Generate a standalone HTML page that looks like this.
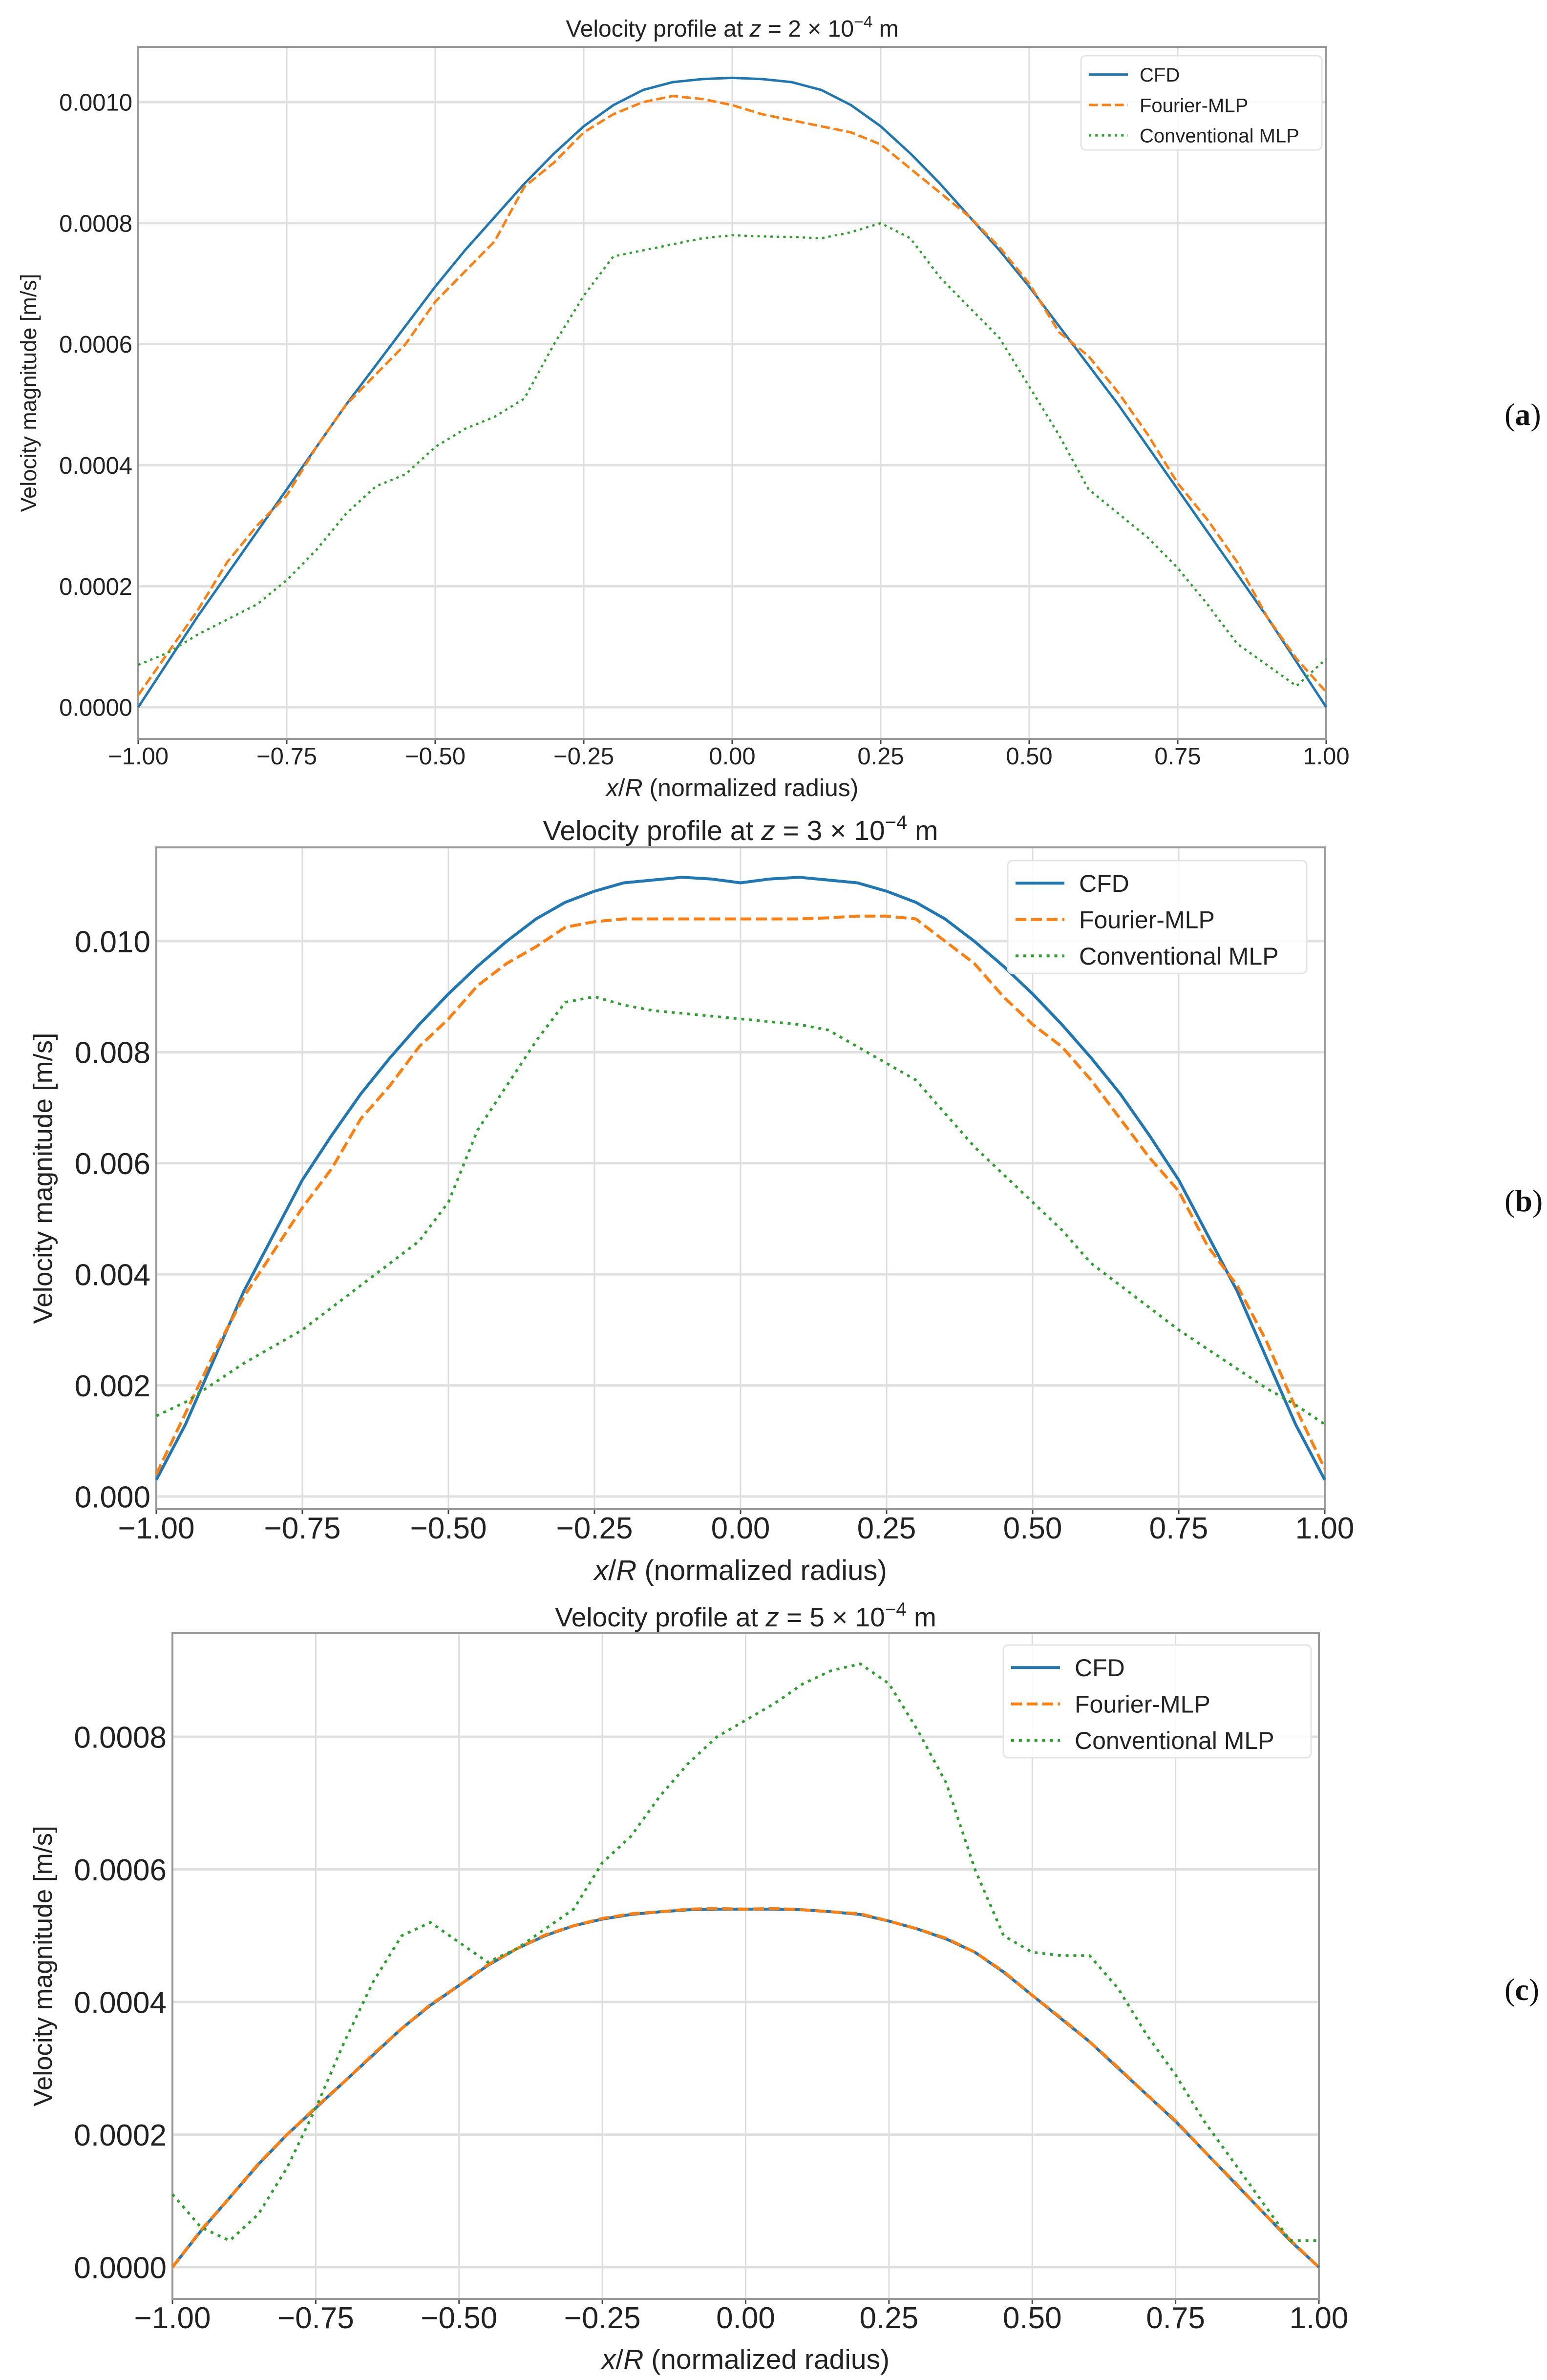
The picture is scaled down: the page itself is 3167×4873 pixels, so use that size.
<!DOCTYPE html>
<html><head><meta charset="utf-8">
<style>
html,body{margin:0;padding:0;background:#fff;}
svg{display:block;font-family:"Liberation Sans","DejaVu Sans",sans-serif;}
</style></head>
<body>
<svg id="fig" width="3167" height="4873" viewBox="0 0 3167 4873" xmlns="http://www.w3.org/2000/svg"></svg>
<script>
// x positions (normalized radius) shared by all series
const xVals = [-1,-0.95,-0.9,-0.85,-0.8,-0.75,-0.7,-0.65,-0.6,-0.55,-0.5,-0.45,-0.4,-0.35,-0.3,-0.25,-0.2,-0.15,-0.1,-0.05,0,0.05,0.1,0.15,0.2,0.25,0.3,0.35,0.4,0.45,0.5,0.55,0.6,0.65,0.7,0.75,0.8,0.85,0.9,0.95,1];
const xTicks = [-1,-0.75,-0.5,-0.25,0,0.25,0.5,0.75,1];
const xTickLabels = ["−1.00","−0.75","−0.50","−0.25","0.00","0.25","0.50","0.75","1.00"];

// Panel (a) values in units of 1e-4 m/s
const cfdA = [0,0.75,1.5,2.2,2.9,3.6,4.3,5.0,5.65,6.3,6.95,7.55,8.1,8.65,9.15,9.6,9.95,10.2,10.33,10.38,10.4,10.38,10.33,10.2,9.95,9.6,9.15,8.65,8.1,7.55,6.95,6.3,5.65,5.0,4.3,3.6,2.9,2.2,1.5,0.75,0];
const fourierA = [0.2,0.9,1.6,2.4,3.0,3.5,4.3,5.0,5.5,6.0,6.7,7.2,7.7,8.6,9.0,9.5,9.8,10.0,10.1,10.05,9.95,9.8,9.7,9.6,9.5,9.3,8.9,8.5,8.1,7.6,7.0,6.2,5.8,5.2,4.5,3.7,3.1,2.4,1.5,0.8,0.25];
const convA = [0.7,0.9,1.2,1.45,1.7,2.1,2.6,3.2,3.65,3.85,4.3,4.6,4.8,5.1,6.0,6.8,7.45,7.55,7.65,7.75,7.8,7.78,7.77,7.75,7.85,8.0,7.75,7.1,6.6,6.1,5.3,4.5,3.6,3.2,2.8,2.3,1.7,1.05,0.7,0.35,0.8];
const yTicksA = [0,2,4,6,8,10];
const yTickLabelsA = ["0.0000","0.0002","0.0004","0.0006","0.0008","0.0010"];

// Panel (b) values in units of 1e-3 m/s
const cfdB = [0.3,1.3,2.5,3.7,4.7,5.7,6.5,7.25,7.9,8.5,9.05,9.55,10.0,10.4,10.7,10.9,11.05,11.1,11.15,11.12,11.05,11.12,11.15,11.1,11.05,10.9,10.7,10.4,10.0,9.55,9.05,8.5,7.9,7.25,6.5,5.7,4.7,3.7,2.5,1.3,0.3];
const fourierB = [0.4,1.5,2.6,3.6,4.4,5.2,5.9,6.8,7.4,8.1,8.6,9.2,9.6,9.9,10.25,10.35,10.4,10.4,10.4,10.4,10.4,10.4,10.4,10.42,10.45,10.45,10.4,10.0,9.6,9.0,8.5,8.1,7.5,6.8,6.1,5.5,4.5,3.8,2.8,1.6,0.5];
const convB = [1.45,1.7,2.05,2.4,2.7,3.0,3.4,3.8,4.2,4.6,5.3,6.6,7.4,8.2,8.9,9.0,8.85,8.75,8.7,8.65,8.6,8.55,8.5,8.4,8.1,7.8,7.5,6.9,6.3,5.8,5.3,4.8,4.2,3.8,3.4,3.0,2.65,2.3,1.95,1.65,1.3];
const yTicksB = [0,2,4,6,8,10];
const yTickLabelsB = ["0.000","0.002","0.004","0.006","0.008","0.010"];

// Panel (c) values in units of 1e-4 m/s
const cfdC = [0,0.55,1.05,1.55,2.0,2.4,2.8,3.2,3.6,3.95,4.25,4.55,4.8,5.0,5.15,5.25,5.32,5.36,5.39,5.4,5.4,5.4,5.39,5.36,5.32,5.22,5.1,4.95,4.75,4.45,4.1,3.75,3.4,3.0,2.6,2.2,1.75,1.3,0.85,0.4,0];
const fourierC = [0,0.56,1.05,1.56,2.0,2.41,2.8,3.21,3.6,3.96,4.25,4.56,4.8,5.01,5.15,5.26,5.33,5.36,5.4,5.41,5.4,5.41,5.39,5.36,5.33,5.22,5.1,4.96,4.75,4.46,4.1,3.76,3.4,3.01,2.6,2.21,1.75,1.31,0.85,0.41,0];
const convC = [1.1,0.6,0.4,0.8,1.5,2.4,3.4,4.3,5.0,5.2,4.9,4.6,4.8,5.1,5.4,6.1,6.5,7.1,7.6,8.0,8.25,8.5,8.8,9.0,9.1,8.8,8.1,7.3,6.0,5.0,4.75,4.7,4.7,4.2,3.5,2.9,2.2,1.6,1.0,0.4,0.4];
const yTicksC = [0,2,4,6,8];
const yTickLabelsC = ["0.0000","0.0002","0.0004","0.0006","0.0008"];

const NS = "http://www.w3.org/2000/svg";
const fig = document.getElementById("fig");
function mk(tag, attrs, parent){ const e=document.createElementNS(NS,tag); for(const k in attrs) e.setAttribute(k,attrs[k]); (parent||fig).appendChild(e); return e; }

const panels = [
 {id:"a", L:283, R:2715, T:96, B:1513, y0px:1448, yRefVal:10, yRefPx:209,
  series:[cfdA,fourierA,convA], yTicks:yTicksA, yLabels:yTickLabelsA,
  tickFont:49, tickY:1565, title:"2", titleY:75, titleFont:48, xlabY:1630, xlabFont:50, ylabX:62, ylabFont:45,
  leg:{x:2213,y:114,w:493,h:193,font:40}, lw:5, tag:{x:3080,y:870}},
 {id:"b", L:320, R:2712, T:1735, B:3090, y0px:3064, yRefVal:10, yRefPx:1927,
  series:[cfdB,fourierB,convB], yTicks:yTicksB, yLabels:yTickLabelsB,
  tickFont:62, tickY:3150, title:"3", titleY:1720, titleFont:57, xlabY:3235, xlabFont:58, ylabX:92, ylabFont:55,
  leg:{x:2063,y:1762,w:612,h:231,font:50}, lw:6, tag:{x:3080,y:2480}},
 {id:"c", L:353, R:2700, T:3344, B:4707, y0px:4642, yRefVal:8, yRefPx:3556,
  series:[cfdC,fourierC,convC], yTicks:yTicksC, yLabels:yTickLabelsC,
  tickFont:62, tickY:4767, title:"5", titleY:3330, titleFont:55, xlabY:4850, xlabFont:57, ylabX:92, ylabFont:53,
  leg:{x:2054,y:3368,w:630,h:231,font:50}, lw:6, tag:{x:3080,y:4095}}
];
const colors = ["#1f77b4","#ff7f0e","#2ca02c"];
const names = ["CFD","Fourier-MLP","Conventional MLP"];
const seriesNames = ["cfd-line","fourier-mlp-line","conventional-mlp-line"];

panels.forEach(p=>{
  const g = mk("g",{});
  
  
  const xs = v => p.L + (v+1)/2*(p.R-p.L);
  const ys = v => p.y0px - v*(p.y0px-p.yRefPx)/p.yRefVal;
  xTicks.forEach((t,i)=>{
    const l = mk("line",{x1:xs(t),x2:xs(t),y1:p.T,y2:p.B,stroke:"#dcdcdc","stroke-width":3},g);
    
    
    const tk = mk("line",{x1:xs(t),x2:xs(t),y1:p.B,y2:p.B+10,stroke:"#444","stroke-width":3},g);
    
    
    const tx = mk("text",{x:xs(t),y:p.tickY,"font-size":p.tickFont,"text-anchor":"middle",fill:"#222"},g);
    tx.textContent = xTickLabels[i];
    
    
  });
  p.yTicks.forEach((t,i)=>{
    const l = mk("line",{x1:p.L,x2:p.R,y1:ys(t),y2:ys(t),stroke:"#e0e0e0","stroke-width":5},g);
    
    
    const tx = mk("text",{x:p.L-12,y:ys(t)+p.tickFont*0.36,"font-size":p.tickFont,"text-anchor":"end",fill:"#222"},g);
    tx.textContent = p.yLabels[i];
    
    
  });
  const fr = mk("rect",{x:p.L,y:p.T,width:p.R-p.L,height:p.B-p.T,fill:"none",stroke:"#999","stroke-width":4},g);
  
  
  p.series.forEach((arr,si)=>{
    const d = arr.map((v,i)=>(i?"L":"M")+xs(xVals[i]).toFixed(1)+","+ys(v).toFixed(1)).join(" ");
    const attrs = {d:d,fill:"none",stroke:colors[si],"stroke-width":p.lw,"stroke-linejoin":"round"};
    if(si===1) attrs["stroke-dasharray"]=(p.lw*3.7)+","+(p.lw*1.6);
    if(si===2){ attrs["stroke-dasharray"]=(p.lw*1)+","+(p.lw*1.65); attrs["stroke-width"]=p.lw*0.9; }
    const path = mk("path",attrs,g);
    
    
  });
  const ti = mk("text",{x:(p.L+p.R)/2,y:p.titleY,"font-size":p.titleFont,"text-anchor":"middle",fill:"#222"},g);
  ti.innerHTML = 'Velocity profile at <tspan font-style="italic">z</tspan> = '+p.title+' × 10<tspan dy="-'+(p.titleFont*0.4)+'" font-size="'+(p.titleFont*0.7)+'">−4</tspan><tspan dy="'+(p.titleFont*0.4)+'"> m</tspan>';
  
  
  const xl = mk("text",{x:(p.L+p.R)/2,y:p.xlabY,"font-size":p.xlabFont,"text-anchor":"middle",fill:"#222"},g);
  xl.innerHTML = '<tspan font-style="italic">x</tspan>/<tspan font-style="italic">R</tspan> (normalized radius)';
  
  
  const cy = (p.T+p.B)/2;
  const yl = mk("text",{x:p.ylabX,y:cy,"font-size":p.ylabFont,"text-anchor":"middle",fill:"#222",transform:"rotate(-90 "+p.ylabX+" "+cy+")","dominant-baseline":"middle"},g);
  yl.textContent = "Velocity magnitude [m/s]";
  
  
  const lg = mk("g",{},g);
  
  
  const box = mk("rect",{x:p.leg.x,y:p.leg.y,width:p.leg.w,height:p.leg.h,rx:10,fill:"#fff","fill-opacity":0.85,stroke:"#e4e4e4","stroke-width":3},lg);
  
  
  const rowH = p.leg.h/3.1;
  names.forEach((n,si)=>{
    const yy = p.leg.y + rowH*(si+0.62);
    const la = {x1:p.leg.x+16,x2:p.leg.x+16+p.leg.font*2,y1:yy,y2:yy,stroke:colors[si],"stroke-width":p.lw};
    if(si===1) la["stroke-dasharray"]=(p.lw*3.7)+","+(p.lw*1.6);
    if(si===2) la["stroke-dasharray"]=(p.lw*1)+","+(p.lw*1.65);
    const ln = mk("line",la,lg);
    
    
    const t = mk("text",{x:p.leg.x+16+p.leg.font*2.6,y:yy+p.leg.font*0.36,"font-size":p.leg.font,fill:"#222"},lg);
    t.textContent = n;
    
    
  });
  const tg = mk("text",{x:p.tag.x,y:p.tag.y,"font-size":64,"font-family":"Liberation Serif, serif",fill:"#111"},g);
  tg.innerHTML = '(<tspan font-weight="bold">'+p.id+'</tspan>)';
  
  
});
</script>
</body></html>
